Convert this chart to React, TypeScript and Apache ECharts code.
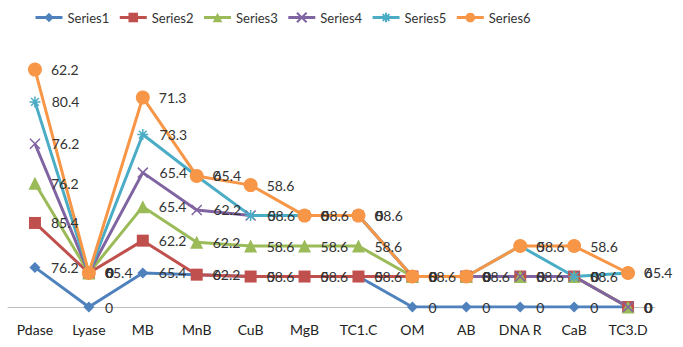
import React, { useEffect, useRef } from "react";
import * as echarts from "echarts";

const categories = ["Pdase", "Lyase", "MB", "MnB", "CuB", "MgB", "TC1.C", "OM", "AB", "DNA R", "CaB", "TC3.D"];
const seriesNames = ["Series1", "Series2", "Series3", "Series4", "Series5", "Series6"];
const series1 = [76.2, 0, 65.4, 62.2, 58.6, 58.6, 58.6, 0, 0, 0, 0, 0];
const series2 = [85.4, 65.4, 62.2, 0, 0, 0, 0, 58.6, 58.6, 58.6, 58.6, 0];
const series3 = [76.2, 0, 65.4, 62.2, 58.6, 58.6, 58.6, 0, 0, 0, 0, 0];
const series4 = [76.2, 0, 65.4, 62.2, 58.6, 58.6, 58.6, 0, 0, 0, 0, 0];
const series5 = [80.4, 0, 73.3, 65.4, 0, 0, 0, 0, 0, 58.6, 0, 65.4];
const series6 = [62.2, 0, 71.3, 0, 58.6, 0, 0, 0, 0, 0, 58.6, 0];

const colors = ["#4F81BD", "#C0504D", "#9BBB59", "#8064A2", "#4BACC6", "#F79646"];
const symbols = [
  "diamond",
  "rect",
  "triangle",
  "path://M0,0L10,10M10,0L0,10",
  "path://M0,5L10,5M1.5,1.5L8.5,8.5M8.5,1.5L1.5,8.5M5,0L5,10",
  "circle",
];
const symbolSizes = [11, 12, 13, 10, 11, 14];

export default function App() {
  const ref = useRef<HTMLDivElement>(null);
  useEffect(() => {
    if (!ref.current) return;
    const chart = echarts.init(ref.current, undefined, { renderer: "svg" });
    const all = [series1, series2, series3, series4, series5, series6];
    chart.setOption({
      animation: false,
      legend: {
        top: 6,
        left: 29,
        itemWidth: 27,
        itemHeight: 12,
        itemGap: 9,
        lineStyle: { width: 3 },
        textStyle: { fontFamily: "'Liberation Sans Narrow', Lato", fontSize: 13, color: "#333" },
        data: seriesNames,
      },
      grid: { left: 8, right: 28, top: 47, bottom: 40 },
      xAxis: {
        type: "category",
        data: categories,
        boundaryGap: true,
        axisLine: { lineStyle: { color: "#bfbfbf", width: 1 } },
        axisTick: { show: false },
        axisLabel: { fontFamily: "Lato", fontSize: 14, color: "#222", margin: 15, interval: 0 },
      },
      yAxis: { type: "value", min: 0, max: 500, show: false, splitLine: { show: false } },
      series: all.map((d, i) => ({
        name: seriesNames[i],
        type: "line",
        stack: "total",
        data: d,
        symbol: symbols[i],
        symbolSize: symbolSizes[i],
        showAllSymbol: true,
        lineStyle: { color: colors[i], width: 3 },
        itemStyle: {
          color: colors[i],
          borderColor: colors[i],
          borderWidth: i === 3 || i === 4 ? 1.5 : 0,
        },
        label: {
          show: true,
          position: "right",
          distance: 16 - symbolSizes[i] / 2,
          fontFamily: "Lato",
          fontSize: 14,
          color: "#333",
        },
      })),
    });
    return () => chart.dispose();
  }, []);
  return (
    <div
      ref={ref}
      style={{ position: "fixed", left: 0, top: 0, width: 683, height: 347, background: "#fff" }}
    />
  );
}
